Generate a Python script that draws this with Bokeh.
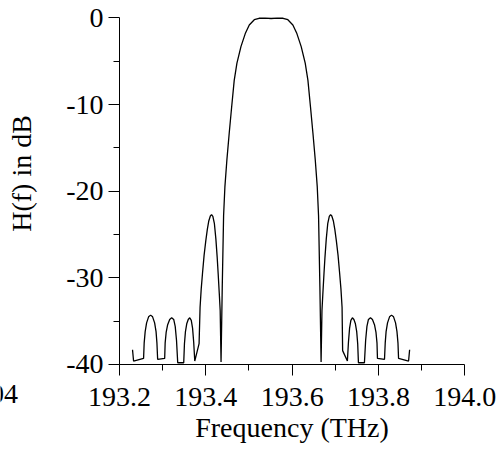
import math
from bokeh.plotting import figure
from bokeh.models import FixedTicker, Label, CustomJSTickFormatter
from bokeh.embed import file_html
from bokeh.resources import INLINE

# Filter transfer function H(f) in dB
freq_thz = [
    193.2302, 193.2326, 193.2558, 193.2572, 193.2595, 193.2628, 193.2674, 193.2721,
    193.2767, 193.2814, 193.2847, 193.2867, 193.2884, 193.3047, 193.3058, 193.3081,
    193.3116, 193.3163, 193.3209, 193.3256, 193.3291, 193.3321, 193.3349, 193.3488,
    193.3505, 193.3528, 193.3558, 193.3593, 193.3628, 193.3663, 193.3693, 193.3719,
    193.3744, 193.3844, 193.3867, 193.3893, 193.3923, 193.3960, 193.4000, 193.4035,
    193.4070, 193.4105, 193.4133, 193.4163, 193.4198, 193.4233, 193.4263, 193.4286,
    193.4312, 193.4333, 193.4353, 193.4381, 193.4412, 193.4442, 193.4488, 193.4542,
    193.4598, 193.4658, 193.4721, 193.4814, 193.4914, 193.5007, 193.5123, 193.5233,
    193.5372, 193.5512,
    193.5652, 193.5791, 193.5901, 193.6017, 193.6110, 193.6210, 193.6303, 193.6366,
    193.6426, 193.6482, 193.6536, 193.6582, 193.6612, 193.6643, 193.6671, 193.6691,
    193.6712, 193.6738, 193.6761, 193.6791, 193.6826, 193.6861, 193.6891, 193.6919,
    193.6954, 193.6989, 193.7024, 193.7064, 193.7101, 193.7131, 193.7157, 193.7170,
    193.7280, 193.7305, 193.7331, 193.7361, 193.7396, 193.7431, 193.7466, 193.7496,
    193.7519, 193.7536, 193.7675, 193.7703, 193.7733, 193.7768, 193.7815, 193.7861,
    193.7908, 193.7943, 193.7966, 193.7977, 193.8140, 193.8157, 193.8177, 193.8210,
    193.8257, 193.8303, 193.8350, 193.8396, 193.8429, 193.8452, 193.8466, 193.8698,
    193.8722,
]
h_db = [
    -38.3, -39.6, -39.3, -37.5, -36.2, -35.2, -34.5, -34.3,
    -34.5, -35.2, -36.2, -37.5, -39.4, -39.3, -37.5, -36.3,
    -35.4, -34.8, -34.6, -34.8, -35.6, -37.2, -39.8, -39.8,
    -37.6, -36.2, -35.3, -34.8, -34.6, -34.9, -35.8, -37.4,
    -39.6, -37.6, -33.4, -31.3, -29.5, -27.4, -25.7, -24.4,
    -23.4, -22.85, -22.7, -22.9, -23.7, -25.5, -27.6, -29.5,
    -31.8, -33.8, -39.7, -31.0, -22.8, -19.5, -16.4, -13.3,
    -10.3, -7.2, -5.2, -3.3, -1.8, -0.8, -0.2, -0.03,
    -0.02, -0.06,
    -0.02, -0.03, -0.2, -0.8, -1.8, -3.3, -5.2, -7.2,
    -10.3, -13.3, -16.4, -19.5, -22.8, -31.0, -39.7, -33.8,
    -31.8, -29.5, -27.6, -25.5, -23.7, -22.9, -22.7, -22.85,
    -23.4, -24.4, -25.7, -27.4, -29.5, -31.3, -33.4, -38.4,
    -39.6, -37.4, -35.8, -34.9, -34.6, -34.8, -35.3, -36.2,
    -37.6, -39.8, -39.8, -37.2, -35.6, -34.8, -34.6, -34.8,
    -35.4, -36.3, -37.5, -39.3, -39.4, -37.5, -36.2, -35.2,
    -34.5, -34.3, -34.5, -35.2, -36.2, -37.5, -39.3, -39.6,
    -38.3,
]

x_ticks = [193.2, 193.4, 193.6, 193.8, 194.0]
x_tick_labels = ["193.2", "193.4", "193.6", "193.8", "194.0"]
x_minor_ticks = [193.3, 193.5, 193.7, 193.9]
y_ticks = [-40, -30, -20, -10, 0]
y_tick_labels = ["-40", "-30", "-20", "-10", "0"]
y_minor_ticks = [-35, -25, -15, -5]

FONT = "Liberation Serif"
FS = "28px"

# the frame fills the whole canvas; the axes cross at (193.2, -40)
p = figure(width=502, height=452, x_range=(192.9243, 194.0874), y_range=(-50.159, 2.02),
           output_backend="svg", toolbar_location=None,
           min_border_left=0, min_border_right=0, min_border_top=0,
           min_border_bottom=0)
p.outline_line_color = None
p.grid.visible = False
p.background_fill_color = "white"
p.border_fill_color = "white"

p.line(freq_thz, h_db, line_color="black", line_width=1.3)

fmt_code = """
let best = 0;
for (let i = 0; i < tvals.length; i++) {
  if (Math.abs(tvals[i] - tick) < Math.abs(tvals[best] - tick)) best = i;
}
return tlabels[best];
"""
p.xaxis.ticker = FixedTicker(ticks=x_ticks, minor_ticks=x_minor_ticks)
p.xaxis.formatter = CustomJSTickFormatter(args=dict(tvals=x_ticks, tlabels=x_tick_labels), code=fmt_code)
p.yaxis.ticker = FixedTicker(ticks=y_ticks, minor_ticks=y_minor_ticks)
p.yaxis.formatter = CustomJSTickFormatter(args=dict(tvals=y_ticks, tlabels=y_tick_labels), code=fmt_code)

p.xaxis.fixed_location = y_ticks[0]
p.xaxis.bounds = (x_ticks[0], x_ticks[-1])
p.yaxis.fixed_location = x_ticks[0]
p.yaxis.bounds = (y_ticks[0], y_ticks[-1])

for ax in p.axis:
    ax.axis_line_color = "black"
    ax.axis_line_width = 1
    ax.major_tick_line_color = "black"
    ax.minor_tick_line_color = "black"
    ax.major_tick_out = 11
    ax.major_tick_in = 0
    ax.minor_tick_out = 6
    ax.minor_tick_in = 0
    ax.major_label_text_font = FONT
    ax.major_label_text_font_size = FS
    ax.major_label_text_color = "black"
    ax.major_label_standoff = 5
    ax.axis_label_text_font = FONT
    ax.axis_label_text_font_size = FS
    ax.axis_label_text_font_style = "normal"
    ax.axis_label_text_color = "black"

p.xaxis.major_label_standoff = 13
p.xaxis.axis_label = "Frequency (THz)"
p.xaxis.axis_label_standoff = 2
p.yaxis.axis_label = "\u00a0" * 5 + "H(f) in dB"
p.yaxis.axis_label_standoff = 26

cut = Label(x=192.9651, y=-42.37, text="04", text_align="right", text_baseline="top",
            text_font=FONT, text_font_size=FS, text_color="black", level="overlay")
p.add_layout(cut)

open("out.html", "w").write(file_html(p, INLINE))
